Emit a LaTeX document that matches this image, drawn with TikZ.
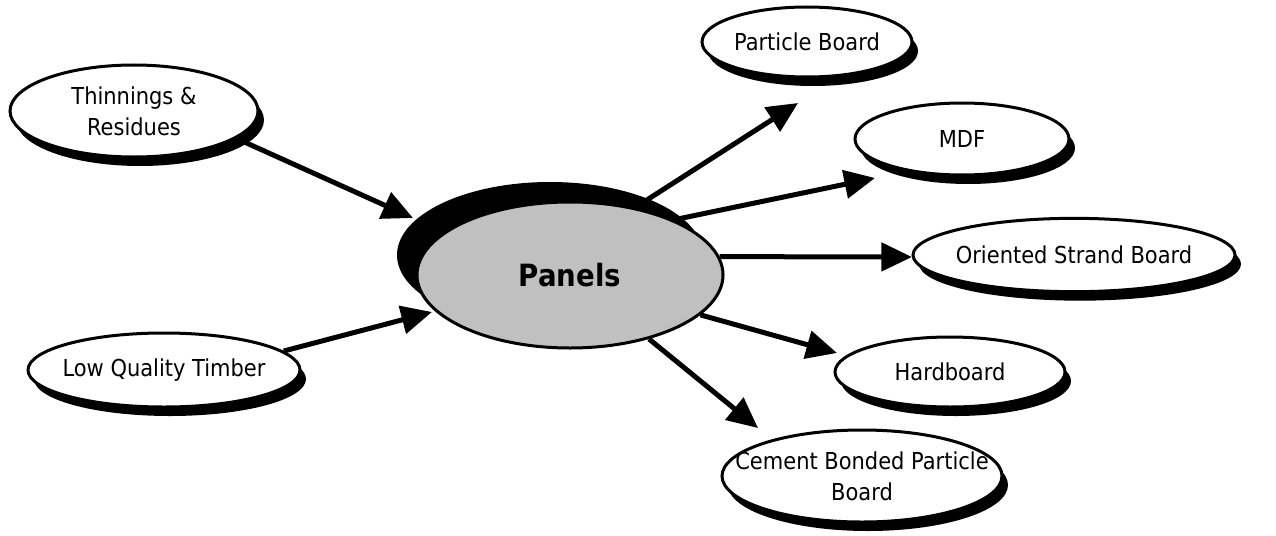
\documentclass[tikz,border=0pt]{standalone}
\usepackage{fontspec}
\setmainfont{DejaVu Sans Condensed}
\usetikzlibrary{shapes.geometric,arrows.meta,shadows}
\definecolor{panelgray}{RGB}{192,192,192}
\tikzset{
  item/.style={ellipse, draw=black, line width=2.25pt, fill=white, inner xsep=-30pt, inner ysep=0pt, align=center,
    font=\fontsize{17.5}{23.25}\selectfont,
    drop shadow={shadow xshift=4.5pt, shadow yshift=-6.75pt, fill=black, opacity=1}},
  hub/.style={ellipse, draw=black, line width=2.25pt, fill=panelgray, inner sep=0pt,
    font=\fontsize{23}{28}\selectfont\bfseries,
    drop shadow={shadow xshift=-15pt, shadow yshift=15pt, fill=black, opacity=1}},
  flow/.style={line width=3.75pt, -{Triangle[length=23pt,width=21pt]}}
}
\begin{document}
\begin{tikzpicture}[x=0.75pt,y=-0.75pt]
\useasboundingbox (0,0) rectangle (1276,535);
\node [hub, minimum width=229.5pt, minimum height=109.5pt] (panels) at (570,275) {Panels};
\node [item, minimum width=186pt, minimum height=69pt] (thin) at (134,111) {Thinnings \&\\Residues};
\node [item, minimum width=204pt, minimum height=55.5pt] (lqt) at (164,370) {Low Quality Timber};
\node [item, minimum width=157.5pt, minimum height=52.5pt] (pb) at (807,42) {Particle Board};
\node [item, minimum width=160.5pt, minimum height=54pt] (mdf) at (962,139) {MDF};
\node [item, minimum width=241.5pt, minimum height=55pt] (osb) at (1074,255) {Oriented Strand Board};
\node [item, minimum width=172.5pt, minimum height=52.5pt] (hb) at (950,372) {Hardboard};
\node [item, minimum width=210pt, minimum height=69pt] (cbpb) at (862,476) {Cement Bonded Particle\\Board};
\coordinate (tipThin) at (413,218);
\coordinate (tipLqt) at (432,312);
\coordinate (tipPb) at (798,103);
\coordinate (tipMdf) at (875,178);
\coordinate (tipOsb) at (912,257);
\coordinate (tipHb) at (837,353);
\coordinate (tipCbpb) at (758,428);
\draw [flow] (thin.-15) -- (tipThin);
\draw [flow] (lqt.9) -- (tipLqt);
\draw [flow] (panels.46) -- (tipPb);
\draw [flow] (panels.28) -- (tipMdf);
\draw [flow] (panels.7) -- (tipOsb);
\draw [flow] (panels.-17) -- (tipHb);
\draw [flow] (panels.-39) -- (tipCbpb);
\end{tikzpicture}
\end{document}
